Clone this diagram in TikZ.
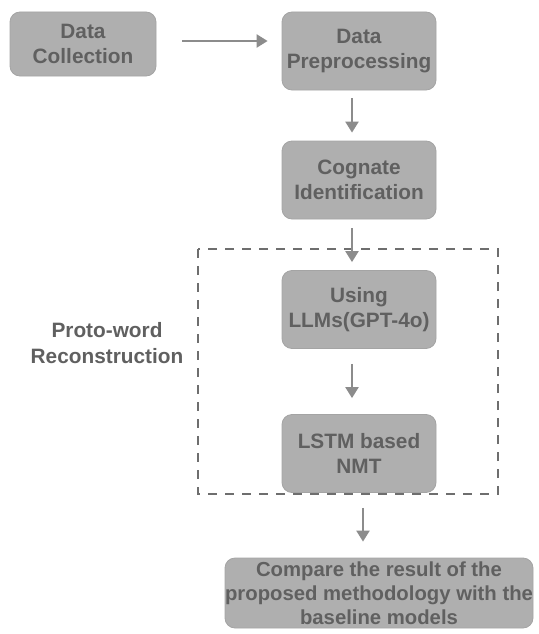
\documentclass[tikz,border=0pt]{standalone}
\usepackage{fontspec}
\setmainfont{Liberation Sans}
\usetikzlibrary{positioning,arrows.meta}
\definecolor{boxfill}{HTML}{AFAFAF}
\definecolor{boxline}{HTML}{A4A4A4}
\definecolor{txtgray}{HTML}{606060}
\definecolor{arrgray}{HTML}{8C8C8C}
\definecolor{dashgray}{HTML}{6E6E6E}
\tikzset{
  stepbox/.style={rounded corners=10pt,fill=boxfill,draw=boxline,line width=0.8pt,
    text=txtgray,align=center,font=\bfseries\fontsize{20.8}{25.5}\selectfont,
    minimum width=154pt,minimum height=78pt,inner sep=1pt},
  flow/.style={draw=arrgray,line width=2.3pt,-{Triangle[length=11pt,width=13pt]}},
  dashbox/.style={draw=dashgray,line width=2.6pt,dash pattern=on 9pt off 8pt},
}
\begin{document}
\begin{tikzpicture}[x=1pt,y=-1pt]
\useasboundingbox (0,0) rectangle (538,634);
\node[stepbox,minimum width=146pt,minimum height=64pt] (dc) at (83,44) {Data\\Collection};
\node[stepbox] (dp) at (359,51) {Data\\Preprocessing};
\node[stepbox] (ci) at (359,180) {Cognate\\Identification};
\node[stepbox] (llm) at (359,309.5) {Using\\LLMs(GPT-4o)};
\node[stepbox] (lstm) at (359,453.5) {LSTM based\\NMT};
\node[stepbox,minimum width=308pt,minimum height=70pt,inner sep=0pt,
  font=\bfseries\fontsize{20.3}{24}\selectfont] (cmp) at (379,593)
  {Compare the result of the\\proposed methodology with the\\baseline models};
\draw[dashbox] (198,249) rectangle (498,494);
\node[text=txtgray,align=center,font=\bfseries\fontsize{20.8}{26}\selectfont] (proto) at (107,343)
  {Proto-word\\Reconstruction};
% arrows
\draw[flow,shorten <=26pt,shorten >=14pt] ([yshift=3pt]dc.east) -- ([yshift=10pt]dp.west);
\draw[flow,shorten <=8pt,shorten >=8pt] ([xshift=-7pt]dp.south) -- ([xshift=-7pt]ci.north);
\draw[flow,shorten <=9pt,shorten >=8pt] ([xshift=-7pt]ci.south) -- ([xshift=-7pt]llm.north);
\draw[flow,shorten <=15pt,shorten >=16pt] ([xshift=-7pt]llm.south) -- ([xshift=-7pt]lstm.north);
\draw[flow,shorten <=15pt,shorten >=16pt] ([xshift=4pt]lstm.south) -- ([xshift=4pt]lstm.south |- cmp.north);
\end{tikzpicture}
\end{document}
